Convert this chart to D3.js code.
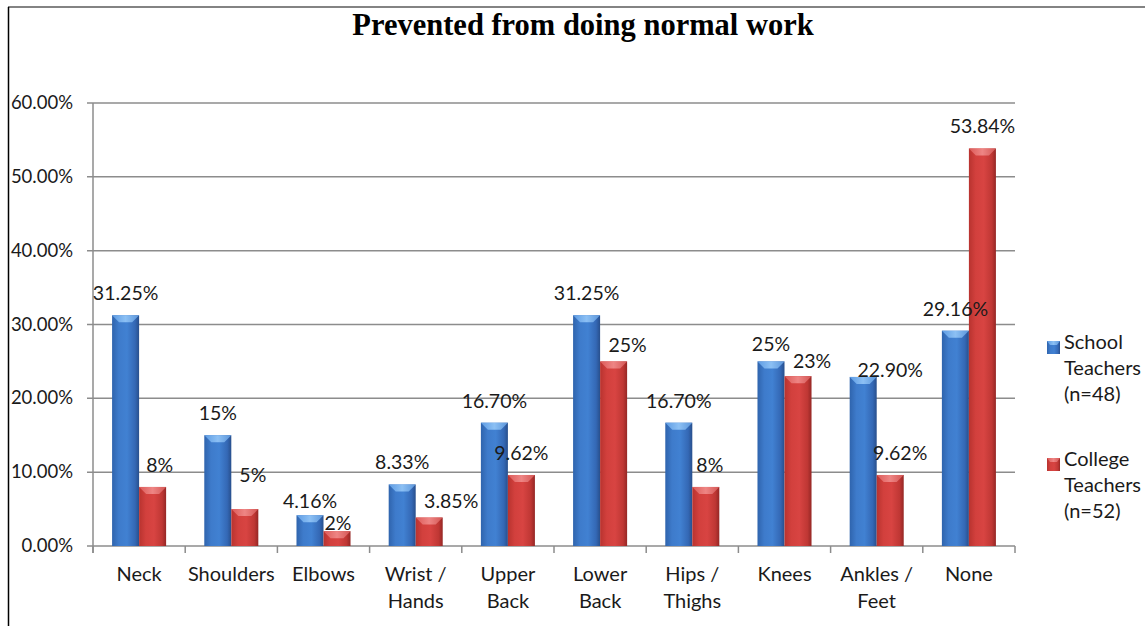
<!DOCTYPE html>
<html>
<head>
<meta charset="utf-8">
<script src="https://cdn.jsdelivr.net/npm/d3@7"></script>
<style>
  html, body { margin: 0; padding: 0; background: #fff; }
  svg { display: block; }
  text { font-family: Lato, "Open Sans", sans-serif; fill: #1a1a1a; }
</style>
</head>
<body>
<svg id="chart" width="1145" height="626"></svg>
<script>
// ---- data ----
const categories = [
  ["Neck"], ["Shoulders"], ["Elbows"], ["Wrist /", "Hands"], ["Upper", "Back"],
  ["Lower", "Back"], ["Hips /", "Thighs"], ["Knees"], ["Ankles /", "Feet"], ["None"]
];
const seriesNames = [["School", "Teachers", "(n=48)"], ["College", "Teachers", "(n=52)"]];
const schoolValues  = [31.25, 15, 4.16, 8.33, 16.70, 31.25, 16.70, 25, 22.90, 29.16];
const collegeValues = [8, 5, 2, 3.85, 9.62, 25, 8, 23, 9.62, 53.84];
const schoolLabels  = ["31.25%", "15%", "4.16%", "8.33%", "16.70%", "31.25%", "16.70%", "25%", "22.90%", "29.16%"];
const collegeLabels = ["8%", "5%", "2%", "3.85%", "9.62%", "25%", "8%", "23%", "9.62%", "53.84%"];
const yTicks = [0, 10, 20, 30, 40, 50, 60];

// label nudges (dx, dy) so overlapping data labels stay readable
const schoolNudge  = [[0,0],[0,0],[0,8],[0,0],[0,0],[0,0],[0,0],[0,5],[27,15],[0,0]];
const collegeNudge = [[7,0],[8,-12],[1,14],[22,5],[0,0],[14,6],[4,0],[14,7],[10,0],[0,0]];

const svg = d3.select("#chart");
const W = 1145, H = 626;
const plot = { left: 93, right: 1015, top: 103, bottom: 546 };

// frame
svg.append("line").attr("x1", 8).attr("x2", W).attr("y1", 7).attr("y2", 7)
  .attr("stroke", "#5a5a5a").attr("stroke-width", 1.5);
svg.append("line").attr("x1", 8.5).attr("x2", 8.5).attr("y1", 7).attr("y2", H)
  .attr("stroke", "#000").attr("stroke-width", 1.5);

// title
svg.append("text").attr("x", 583).attr("y", 35).attr("text-anchor", "middle")
  .style("font-family", "'Liberation Serif', 'Times New Roman', serif")
  .style("font-weight", "bold").style("font-size", "30.5px").style("fill", "#000")
  .text("Prevented from doing normal work");

// scales
const x = d3.scaleBand().domain(d3.range(categories.length))
  .range([plot.left, plot.right]).paddingInner(0.414).paddingOuter(0.207);
const xs = d3.scaleBand().domain([0, 1]).range([0, x.bandwidth()]);
const y = d3.scaleLinear().domain([0, 60]).range([plot.bottom, plot.top]);

// gradients
const defs = svg.append("defs");
function hGrad(id, stops) {
  const g = defs.append("linearGradient").attr("id", id)
    .attr("x1", "0").attr("x2", "1").attr("y1", "0").attr("y2", "0");
  stops.forEach(s => g.append("stop").attr("offset", s[0]).attr("stop-color", s[1]));
}
hGrad("blueBody", [[0, "#2f64ad"], [0.25, "#3e7bcb"], [0.55, "#4181d2"], [0.85, "#3468b5"], [1, "#284f8c"]]);
hGrad("redBody",  [[0, "#b8332f"], [0.25, "#d2403d"], [0.55, "#d84442"], [0.85, "#bf3734"], [1, "#952725"]]);
hGrad("blueCap",  [[0, "#5d9be3"], [0.5, "#8cc0f4"], [1, "#5b95da"]]);
hGrad("redCap",   [[0, "#dc5a58"], [0.5, "#ee8584"], [1, "#d35553"]]);

// gridlines + y ticks
const grid = svg.append("g");
yTicks.forEach(t => {
  grid.append("line").attr("x1", plot.left - 6).attr("x2", plot.right)
    .attr("y1", y(t)).attr("y2", y(t)).attr("stroke", "#8c8c8c").attr("stroke-width", 1.5);
  grid.append("text").attr("x", 73).attr("y", y(t) + 6).attr("text-anchor", "end")
    .style("font-size", "18.5px").text(t.toFixed(2) + "%");
});

// y axis line
svg.append("line").attr("x1", plot.left).attr("x2", plot.left)
  .attr("y1", plot.top).attr("y2", plot.bottom + 7)
  .attr("stroke", "#8c8c8c").attr("stroke-width", 1.5);

// x category ticks
const step = x.step();
d3.range(categories.length + 1).forEach(i => {
  const xx = plot.left + i * step;
  svg.append("line").attr("x1", xx).attr("x2", xx)
    .attr("y1", plot.bottom).attr("y2", plot.bottom + 7)
    .attr("stroke", "#8c8c8c").attr("stroke-width", 1.5);
});

// bars
function drawBars(values, si, body, cap) {
  const g = svg.append("g");
  values.forEach((v, i) => {
    const bx = x(i) + xs(si), bw = xs.bandwidth();
    const top = y(v), h = y(0) - y(v);
    g.append("rect").attr("x", bx).attr("y", top).attr("width", bw).attr("height", h)
      .attr("fill", `url(#${body})`);
    const ch = Math.min(7, h);
    g.append("polygon")
      .attr("points", [[bx, top], [bx + bw, top], [bx + bw - 7, top + ch], [bx + 7, top + ch]].map(p => p.join(",")).join(" "))
      .attr("fill", `url(#${cap})`);
  });
}
drawBars(schoolValues, 0, "blueBody", "blueCap");
drawBars(collegeValues, 1, "redBody", "redCap");

// data labels
function drawLabels(values, labels, nudge, si) {
  values.forEach((v, i) => {
    const cx = x(i) + xs(si) + xs.bandwidth() / 2;
    svg.append("text").attr("x", cx + nudge[i][0]).attr("y", y(v) - 15 + nudge[i][1])
      .attr("text-anchor", "middle").style("font-size", "19.5px").text(labels[i]);
  });
}
drawLabels(schoolValues, schoolLabels, schoolNudge, 0);
drawLabels(collegeValues, collegeLabels, collegeNudge, 1);

// category labels
categories.forEach((lines, i) => {
  const t = svg.append("text").attr("text-anchor", "middle").style("font-size", "20px");
  lines.forEach((ln, k) => {
    t.append("tspan").attr("x", x(i) + x.bandwidth() / 2).attr("y", 581 + k * 27).text(ln);
  });
});

// legend
const legendColors = [["blueBody", "blueCap"], ["redBody", "redCap"]];
seriesNames.forEach((lines, si) => {
  const baseY = 349 + si * 117;
  svg.append("rect").attr("x", 1047).attr("y", baseY - 8).attr("width", 13).attr("height", 13)
    .attr("fill", `url(#${legendColors[si][0]})`);
  svg.append("polygon")
    .attr("points", [[1047, baseY - 8], [1060, baseY - 8], [1057, baseY - 4], [1050, baseY - 4]].map(p => p.join(",")).join(" "))
    .attr("fill", `url(#${legendColors[si][1]})`);
  const t = svg.append("text").style("font-size", "20px");
  lines.forEach((ln, k) => {
    t.append("tspan").attr("x", 1064).attr("y", baseY + k * 26).text(ln);
  });
});
</script>
</body>
</html>
